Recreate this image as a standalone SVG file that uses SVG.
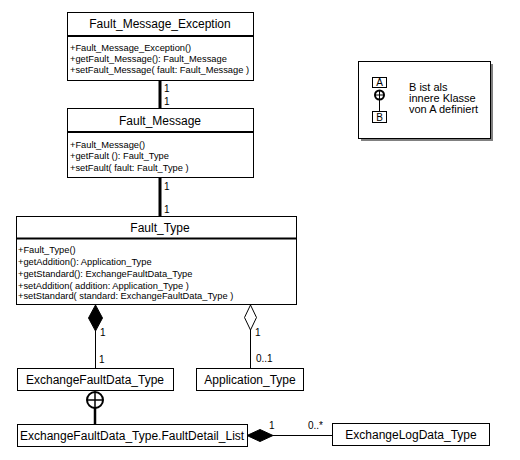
<svg xmlns="http://www.w3.org/2000/svg" width="520" height="460" viewBox="0 0 520 460">
<style>
.box{fill:#fff;stroke:#000;stroke-width:1}
.div{stroke:#000;stroke-width:2}
.t{font-family:"Liberation Sans",Arial,sans-serif;font-size:12px;fill:#000}
.tc{text-anchor:middle}
.m{font-family:"Liberation Sans",Arial,sans-serif;font-size:9.3px;fill:#000}
.l{font-family:"Liberation Sans",Arial,sans-serif;font-size:10px;fill:#000}
.lg{font-family:"Liberation Sans",Arial,sans-serif;font-size:11px;fill:#000}
.thin{stroke:#000;stroke-width:1;fill:none}
.thick{stroke:#000;stroke-width:3;fill:none}
</style>
<rect width="520" height="460" fill="#fff"/>
<g id="connectors">
  <line class="thick" x1="160" y1="80" x2="160" y2="108"/>
  <text class="l" x="164" y="92">1</text>
  <text class="l" x="164" y="105">1</text>
  <line class="thick" x1="160" y1="178" x2="160" y2="216"/>
  <text class="l" x="164" y="190">1</text>
  <text class="l" x="164" y="213">1</text>
  <line class="thin" x1="95.5" y1="331" x2="95.5" y2="368"/>
  <polygon points="95.5,305 102.5,318 95.5,331 88.5,318" fill="#000" stroke="#000"/>
  <text class="l" x="100" y="336">1</text>
  <text class="l" x="99" y="363">1</text>
  <line class="thin" x1="250.5" y1="330" x2="250.5" y2="368"/>
  <polygon points="250.5,305 256.5,317.5 250.5,330 244.5,317.5" fill="#fff" stroke="#000"/>
  <text class="l" x="255" y="336">1</text>
  <text class="l" x="256" y="362">0..1</text>
  <circle cx="95" cy="400" r="8" fill="#fff" stroke="#000" stroke-width="2"/>
  <line stroke="#000" stroke-width="1.5" x1="87" y1="400" x2="103" y2="400"/>
  <line stroke="#000" stroke-width="1.5" x1="95" y1="392" x2="95" y2="408"/>
  <line stroke="#000" stroke-width="2.5" x1="95" y1="408" x2="95" y2="424"/>
  <line class="thin" x1="273" y1="435.5" x2="332" y2="435.5"/>
  <polygon points="247,435.5 260,429.5 273,435.5 260,441.5" fill="#000" stroke="#000"/>
  <text class="l" x="269" y="429">1</text>
  <text class="l" x="308" y="429">0..*</text>
</g>
<g id="Fault_Message_Exception">
  <rect class="box" x="67.5" y="12.5" width="186" height="68"/>
  <line class="div" x1="67.5" y1="36" x2="253.5" y2="36"/>
  <text class="t tc" x="160" y="28">Fault_Message_Exception</text>
  <text class="m" x="70" y="51">+Fault_Message_Exception()</text>
  <text class="m" x="70" y="62">+getFault_Message(): Fault_Message</text>
  <text class="m" x="70" y="73">+setFault_Message( fault: Fault_Message )</text>
</g>
<g id="Fault_Message">
  <rect class="box" x="67.5" y="108.5" width="186" height="69"/>
  <line class="div" x1="67.5" y1="132" x2="253.5" y2="132"/>
  <text class="t tc" x="160" y="125">Fault_Message</text>
  <text class="m" x="70" y="148">+Fault_Message()</text>
  <text class="m" x="70" y="159">+getFault (): Fault_Type</text>
  <text class="m" x="70" y="171">+setFault( fault: Fault_Type )</text>
</g>
<g id="Fault_Type">
  <rect class="box" x="16.5" y="216.5" width="280" height="88"/>
  <line class="div" x1="16.5" y1="238.5" x2="296.5" y2="238.5"/>
  <text class="t tc" x="160" y="232">Fault_Type</text>
  <text class="m" x="18" y="253">+Fault_Type()</text>
  <text class="m" x="18" y="265">+getAddition(): Application_Type</text>
  <text class="m" x="18" y="277">+getStandard(): ExchangeFaultData_Type</text>
  <text class="m" x="18" y="289">+setAddition( addition: Application_Type )</text>
  <text class="m" x="18" y="299">+setStandard( standard: ExchangeFaultData_Type )</text>
</g>
<g id="ExchangeFaultData_Type">
  <rect class="box" x="17.5" y="368.5" width="156" height="22"/>
  <text class="t tc" x="95" y="384">ExchangeFaultData_Type</text>
</g>
<g id="Application_Type">
  <rect class="box" x="196.5" y="368.5" width="107" height="22"/>
  <text class="t tc" x="250" y="384">Application_Type</text>
</g>
<g id="FaultDetail_List">
  <rect class="box" x="17.5" y="424.5" width="230" height="22"/>
  <text class="t" x="20" y="440">ExchangeFaultData_Type.FaultDetail_List</text>
</g>
<g id="ExchangeLogData_Type">
  <rect class="box" x="332.5" y="423.5" width="157" height="22"/>
  <text class="t tc" x="411" y="439">ExchangeLogData_Type</text>
</g>
<g id="legend">
  <rect x="361" y="64" width="132" height="77" fill="#808080"/>
  <rect class="box" x="358.5" y="61.5" width="132" height="77"/>
  <rect class="box" x="372.5" y="77.5" width="14" height="10"/>
  <text class="l tc" x="379.5" y="86">A</text>
  <line class="thin" x1="379.5" y1="100" x2="379.5" y2="111"/>
  <circle cx="379.5" cy="95" r="4.5" fill="#fff" stroke="#000" stroke-width="2"/>
  <line stroke="#000" stroke-width="1" x1="375" y1="95" x2="384" y2="95"/>
  <line stroke="#000" stroke-width="1" x1="379.5" y1="90.5" x2="379.5" y2="99.5"/>
  <rect class="box" x="372.5" y="111.5" width="14" height="11"/>
  <text class="l tc" x="379.5" y="121">B</text>
  <text class="lg" x="409" y="91">B ist als</text>
  <text class="lg" x="409" y="102">innere Klasse</text>
  <text class="lg" x="409" y="113">von A definiert</text>
</g>
</svg>
